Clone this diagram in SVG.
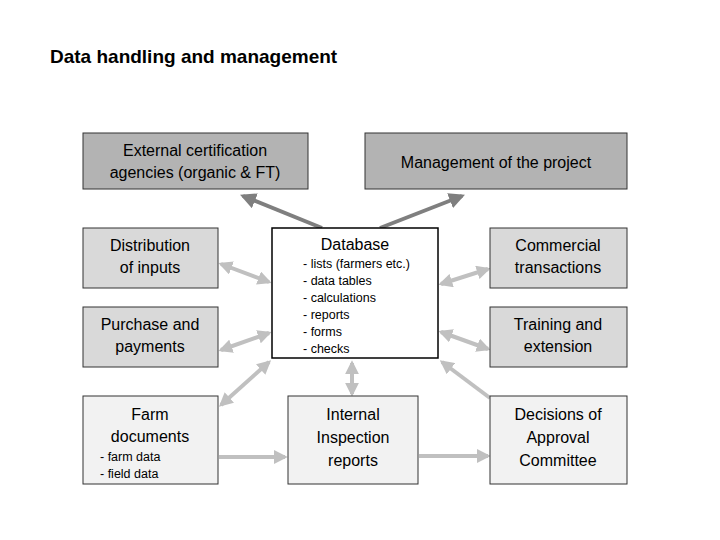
<svg xmlns="http://www.w3.org/2000/svg" width="720" height="540" viewBox="0 0 720 540">
<style>
text{font-family:"Liberation Sans",Arial,sans-serif;fill:#000}
.t{font-size:16px;text-anchor:middle}
.s{font-size:12.5px}
.top{fill:#b3b3b3;stroke:#333;stroke-width:1}
.side{fill:#d9d9d9;stroke:#333;stroke-width:1}
.bot{fill:#f2f2f2;stroke:#333;stroke-width:1}
.dk{stroke:#7f7f7f;stroke-width:4;fill:none}
.lt{stroke:#c0c0c0;stroke-width:4;fill:none}
</style>
<defs>
<marker id="md" viewBox="0 0 10 10" refX="8" refY="5" markerWidth="4" markerHeight="4" orient="auto-start-reverse"><path d="M0,0L10,5L0,10z" fill="#7f7f7f"/></marker>
<marker id="ml" viewBox="0 0 10 10" refX="8" refY="5" markerWidth="3.5" markerHeight="3.5" orient="auto-start-reverse"><path d="M0,0L10,5L0,10z" fill="#c0c0c0"/></marker>
</defs>
<rect width="720" height="540" fill="#fff"/>
<text x="50" y="63" style="font-size:19px;font-weight:bold">Data handling and management</text>
<g id="connectors">
<line class="dk" x1="322" y1="228" x2="243" y2="196" marker-end="url(#md)"/>
<line class="dk" x1="380" y1="228" x2="462" y2="196" marker-end="url(#md)"/>
<line class="lt" x1="221" y1="264" x2="269" y2="282" marker-start="url(#ml)" marker-end="url(#ml)"/>
<line class="lt" x1="221" y1="350" x2="269" y2="333" marker-start="url(#ml)" marker-end="url(#ml)"/>
<line class="lt" x1="441" y1="284" x2="488" y2="269" marker-start="url(#ml)" marker-end="url(#ml)"/>
<line class="lt" x1="441" y1="332" x2="488" y2="349" marker-start="url(#ml)" marker-end="url(#ml)"/>
<line class="lt" x1="221" y1="405" x2="269" y2="362" marker-start="url(#ml)" marker-end="url(#ml)"/>
<line class="lt" x1="352" y1="363" x2="352" y2="394" marker-start="url(#ml)" marker-end="url(#ml)"/>
<line class="lt" x1="490" y1="398" x2="442" y2="362" marker-end="url(#ml)"/>
<line class="lt" x1="219" y1="457" x2="285" y2="457" marker-end="url(#ml)"/>
<line class="lt" x1="419" y1="456" x2="488" y2="456" marker-end="url(#ml)"/>
</g>
<g id="external"><rect class="top" x="83" y="133" width="225" height="56"/>
<text class="t" x="195" y="156">External certification</text><text class="t" x="195" y="178">agencies (organic &amp; FT)</text></g>
<g id="management"><rect class="top" x="365" y="133" width="262" height="56"/>
<text class="t" x="496" y="168">Management of the project</text></g>
<g id="distribution"><rect class="side" x="83" y="228" width="135" height="60"/>
<text class="t" x="150" y="251">Distribution</text><text class="t" x="150" y="273">of inputs</text></g>
<g id="purchase"><rect class="side" x="83" y="307" width="135" height="60"/>
<text class="t" x="150" y="330">Purchase and</text><text class="t" x="150" y="352">payments</text></g>
<g id="database"><rect x="272" y="228" width="166" height="130" fill="#fff" stroke="#000" stroke-width="1.5"/>
<text class="t" x="355" y="250">Database</text>
<text class="s" x="303" y="268">- lists (farmers etc.)</text>
<text class="s" x="303" y="285">- data tables</text>
<text class="s" x="303" y="302">- calculations</text>
<text class="s" x="303" y="319">- reports</text>
<text class="s" x="303" y="336">- forms</text>
<text class="s" x="303" y="353">- checks</text></g>
<g id="commercial"><rect class="side" x="490" y="228" width="137" height="60"/>
<text class="t" x="558" y="251">Commercial</text><text class="t" x="558" y="273">transactions</text></g>
<g id="training"><rect class="side" x="490" y="307" width="137" height="60"/>
<text class="t" x="558" y="330">Training and</text><text class="t" x="558" y="352">extension</text></g>
<g id="farm"><rect class="bot" x="83" y="396" width="135" height="88"/>
<text class="t" x="150" y="420">Farm</text><text class="t" x="150" y="442">documents</text>
<text class="s" x="100" y="461">- farm data</text><text class="s" x="100" y="478">- field data</text></g>
<g id="internal"><rect class="bot" x="288" y="396" width="130" height="88"/>
<text class="t" x="353" y="420">Internal</text><text class="t" x="353" y="443">Inspection</text><text class="t" x="353" y="466">reports</text></g>
<g id="decisions"><rect class="bot" x="490" y="396" width="137" height="88"/>
<text class="t" x="558" y="420">Decisions of</text><text class="t" x="558" y="443">Approval</text><text class="t" x="558" y="466">Committee</text></g>
</svg>
